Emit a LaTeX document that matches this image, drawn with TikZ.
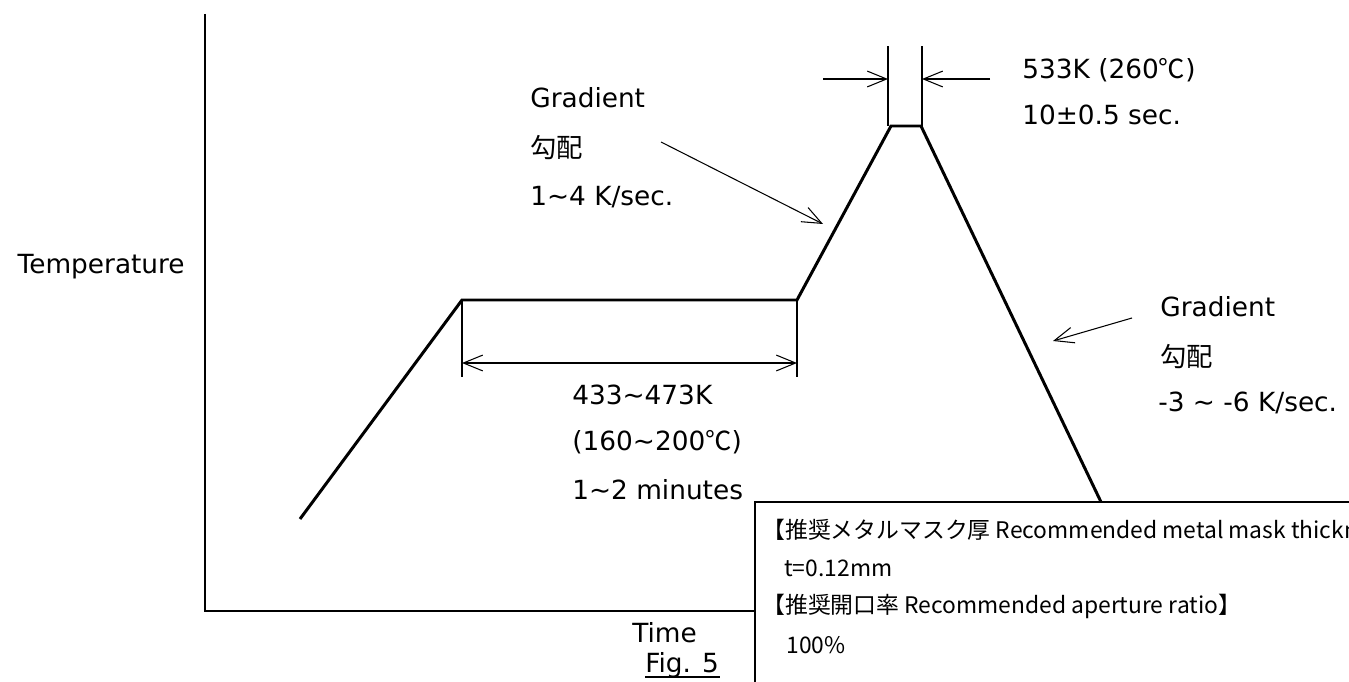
\documentclass[tikz,border=0pt]{standalone}
\usepackage{fontspec}
\setmainfont{DejaVu Sans}
\newfontfamily\jp{Noto Sans CJK JP}
\newcommand{\tld}{\char"007E\relax}
\usetikzlibrary{arrows.meta}
\begin{document}
\begin{tikzpicture}[x=0.02cm,y=-0.02cm,
  lbl/.style={font=\fontsize{15}{18}\selectfont, inner sep=0pt, anchor=west},
  boxlbl/.style={font=\jp\fontsize{13}{15}\selectfont, inner sep=0pt, anchor=west},
  curve/.style={line width=1.7pt, line join=miter},
  axis/.style={line width=1pt},
  thin/.style={line width=0.6pt},
  barb/.style={-{Straight Barb[length=11pt,width=9pt,line width=0.6pt]}, line width=0.6pt},
  dbarb/.style={{Straight Barb[length=11pt,width=9pt,line width=0.6pt]}-{Straight Barb[length=11pt,width=9pt,line width=0.6pt]}, line width=0.6pt}
]
\useasboundingbox (0,0) rectangle (1349,682);
% axes
\coordinate (yt) at (205,14);
\coordinate (o) at (205,611);
\coordinate (xe) at (755,611);
\draw[axis] (yt) -- (o) -- (xe);
% profile curve
\coordinate (c0) at (300,519);
\coordinate (c1) at (462,300);
\coordinate (c2) at (797,300);
\coordinate (c3) at (891,126);
\coordinate (c4) at (921,126);
\coordinate (c5) at (1101,502);
\draw[curve] (c0) -- (c1) -- (c2) -- (c3) -- (c4) -- (c5);
% soak dimension
\coordinate (e1) at (462,377);
\coordinate (e2) at (797,377);
\coordinate (d1) at (462,363);
\coordinate (d2) at (797,363);
\draw[thin] (c1) -- (e1);
\draw[thin] (c2) -- (e2);
\draw[dbarb] (d1) -- (d2);
% peak dimension
\coordinate (p1b) at (888,126);
\coordinate (p1t) at (888,46);
\coordinate (p2b) at (922,126);
\coordinate (p2t) at (922,46);
\coordinate (p1a) at (888,79);
\coordinate (p2a) at (922,79);
\coordinate (pl) at (823,79);
\coordinate (pr) at (990,79);
\draw[thin] (p1b) -- (p1t);
\draw[thin] (p2b) -- (p2t);
\draw[barb] (pl) -- (p1a);
\draw[barb] (pr) -- (p2a);
% labels
\node[lbl, anchor=east] (temp) at (185,267) {Temperature};
\node[lbl] (pk1) at (1022,70) {533K (260{\jp ℃})};
\node[lbl] (pk2) at (1022,115) {10±0.5 sec.};
\node[lbl] (g1a) at (530,98) {Gradient};
\node[lbl] (g1b) at (530,148) {\jp 勾配};
\node[lbl] (g1c) at (530,197) {1\tld 4 K/sec.};
\coordinate (g1s) at (661,142);
\coordinate (g1e) at (823,224);
\draw[barb] (g1s) -- (g1e);
\node[lbl] (g2a) at (1160,307) {Gradient};
\node[lbl] (g2b) at (1160,357) {\jp 勾配};
\node[lbl] (g2c) at (1158,403) {-3 \tld{} -6 K/sec.};
\coordinate (g2s) at (1132,318);
\coordinate (g2e) at (1053,341);
\draw[barb] (g2s) -- (g2e);
\node[lbl] (s1) at (572,395) {433\tld 473K};
\node[lbl] (s2) at (572,442) {(160\tld 200{\jp ℃})};
\node[lbl] (s3) at (572,490) {1\tld 2 minutes};
\node[lbl] (time) at (632,633) {Time};
\node[lbl] (fig) at (645,665) {Fig. 5};
\coordinate (ul) at (645,677);
\coordinate (ur) at (720,677);
\draw[line width=0.8pt] (ul) -- (ur);
% recommendation box
\begin{scope}
\clip (0,0) rectangle (1349,682);
\coordinate (bt) at (755,502);
\coordinate (bb) at (755,682);
\coordinate (br) at (1349,502);
\fill[white] (bt) rectangle (1349,682);
\draw[axis] (bb) -- (bt) -- (br);
\node[boxlbl] (b1) at (762,530) {【推奨メタルマスク厚 Recommended metal mask thickness】};
\node[boxlbl] (b2) at (784,568) {t=0.12mm};
\node[boxlbl] (b3) at (762,606) {【推奨開口率 Recommended aperture ratio】};
\node[boxlbl] (b4) at (786,645) {100\%};
\end{scope}
\end{tikzpicture}
\end{document}
